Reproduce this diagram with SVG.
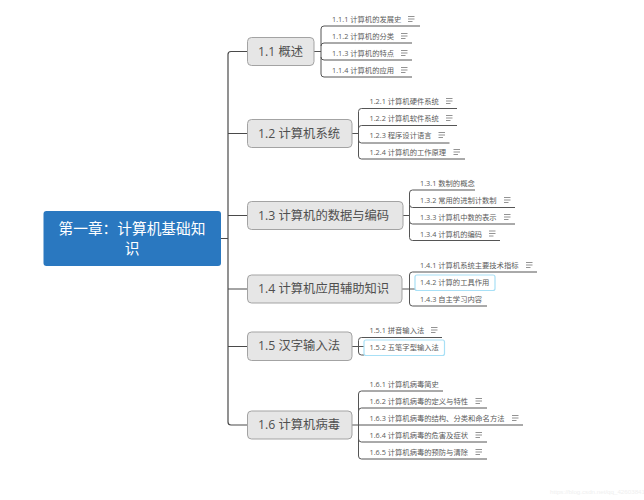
<svg xmlns="http://www.w3.org/2000/svg" xmlns:xlink="http://www.w3.org/1999/xlink" width="644" height="500" viewBox="0 0 644 500">
<style>
text{font-family:"Open Sans","Noto Sans CJK SC","Noto Sans",sans-serif}
.bg{fill:#fff}
.root{fill:#2a78c0}
.rt{fill:#fff;font-size:14.7px;text-anchor:middle}
.l1{fill:#e6e6e6;stroke:#a3a3a3;stroke-width:1}
.lt{fill:#4f4f4f;font-size:12.3px;dominant-baseline:central}
.t{fill:#5a5a5a;font-size:7.3px;dominant-baseline:central}
.c{fill:none;stroke:#555;stroke-width:1}
.m{fill:none;stroke:#4a4a4a;stroke-width:1.2}
.sel{fill:#fff;stroke:#a8e0f6;stroke-width:1.2}
.ic{fill:none;stroke:#777;stroke-width:.8}
.wm{fill:#efefef;font-size:6.2px;font-family:"Liberation Sans",sans-serif}
</style>
<defs>
<g id="note"><path class="ic" d="M0 0H6.500M0 2.500H6.500M0 5H4.500"/></g>
</defs>
<rect class="bg" width="644" height="500"/>
<g id="connectors">
<path class="m" d="M221 238.500H228M247.500 51.500H231Q228 51.500 228 54.500V422Q228 425 231 425H247.500M228 133.500H247.500M228 215.500H247.500M228 289H247.500M228 346.500H247.500"/>
<path class="c" d="M314 51.500H321M420 26H324Q321 26 321 29V74Q321 77 324 77H412M321 46Q321 43 324 43H412M321 57Q321 60 324 60H412"/>
<path class="c" d="M352 133.500H358.500M457 108.500H361.500Q358.500 108.500 358.500 111.500V156Q358.500 159 361.500 159H465M358.500 128.500Q358.500 125.500 361.500 125.500H457M358.500 140Q358.500 143 361.500 143H449.500"/>
<path class="c" d="M403 215.500H409.500M515 207.500H412.500Q409.500 207.500 409.500 204.500V193Q409.500 190 412.500 190H475M409.500 204.500V237.500Q409.500 240.500 412.500 240.500H500M409.500 221Q409.500 224 412.500 224H515"/>
<path class="c" d="M402 289H415M537 272H412.500Q409.500 272 409.500 275V303Q409.500 306 412.500 306H487"/>
<path class="c" d="M352 346.500H364M442 337.500H361.500Q358.500 337.500 358.500 340.500V352Q358.500 355 361.500 355H364"/>
<path class="c" d="M352 425H523M443 391H361.500Q358.500 391 358.500 394V456Q358.500 459 361.500 459H487M358.500 411Q358.500 408 361.500 408H487M358.500 439Q358.500 442 361.500 442H487"/>
</g>
<g id="root"><rect class="root" x="43.500" y="211" width="177.500" height="55" rx="3"/><text class="rt" x="132" y="234">第一章：计算机基础知</text><text class="rt" x="132" y="254">识</text></g>
<g id="n1-1"><rect class="l1" x="247.500" y="37.500" width="66.500" height="28" rx="4"/><text class="lt" x="258" y="51">1.1 概述</text></g>
<g id="n1-2"><rect class="l1" x="247.500" y="119.500" width="104.500" height="28" rx="4"/><text class="lt" x="258" y="133">1.2 计算机系统</text></g>
<g id="n1-3"><rect class="l1" x="247.500" y="201.500" width="155.500" height="28" rx="4"/><text class="lt" x="258" y="215">1.3 计算机的数据与编码</text></g>
<g id="n1-4"><rect class="l1" x="247.500" y="275" width="154.500" height="28" rx="4"/><text class="lt" x="258" y="288.500">1.4 计算机应用辅助知识</text></g>
<g id="n1-5"><rect class="l1" x="247.500" y="332" width="104.500" height="28.500" rx="4"/><text class="lt" x="258" y="345.500">1.5 汉字输入法</text></g>
<g id="n1-6"><rect class="l1" x="247.500" y="411" width="104.500" height="28" rx="4"/><text class="lt" x="258" y="424.500">1.6 计算机病毒</text></g>
<g id="n1-1-1"><text class="t" x="332" y="19">1.1.1 计算机的发展史</text><use href="#note" x="408" y="16.500"/></g>
<g id="n1-1-2"><text class="t" x="332" y="36">1.1.2 计算机的分类</text><use href="#note" x="401" y="33.500"/></g>
<g id="n1-1-3"><text class="t" x="332" y="53">1.1.3 计算机的特点</text><use href="#note" x="401" y="50.500"/></g>
<g id="n1-1-4"><text class="t" x="332" y="70">1.1.4 计算机的应用</text><use href="#note" x="401" y="67.500"/></g>
<g id="n1-2-1"><text class="t" x="369.500" y="101">1.2.1 计算机硬件系统</text><use href="#note" x="446" y="98.500"/></g>
<g id="n1-2-2"><text class="t" x="369.500" y="118">1.2.2 计算机软件系统</text><use href="#note" x="446" y="115.500"/></g>
<g id="n1-2-3"><text class="t" x="369.500" y="135">1.2.3 程序设计语言</text><use href="#note" x="438.500" y="132.500"/></g>
<g id="n1-2-4"><text class="t" x="369.500" y="152">1.2.4 计算机的工作原理</text><use href="#note" x="453.500" y="149.500"/></g>
<g id="n1-3-1"><text class="t" x="420" y="183">1.3.1 数制的概念</text></g>
<g id="n1-3-2"><text class="t" x="420" y="200">1.3.2 常用的进制计数制</text><use href="#note" x="504" y="197.500"/></g>
<g id="n1-3-3"><text class="t" x="420" y="217">1.3.3 计算机中数的表示</text><use href="#note" x="504" y="214.500"/></g>
<g id="n1-3-4"><text class="t" x="420" y="233.500">1.3.4 计算机的编码</text><use href="#note" x="489" y="231"/></g>
<g id="n1-4-1"><text class="t" x="420" y="265">1.4.1 计算机系统主要技术指标</text><use href="#note" x="526" y="262.500"/></g>
<g id="n1-4-2"><rect class="sel" x="415" y="275" width="80" height="15.500" rx="2"/><text class="t" x="420" y="282">1.4.2 计算的工具作用</text></g>
<g id="n1-4-3"><text class="t" x="420" y="299">1.4.3 自主学习内容</text></g>
<g id="n1-5-1"><text class="t" x="369.500" y="330">1.5.1 拼音输入法</text><use href="#note" x="431" y="327.500"/></g>
<g id="n1-5-2"><rect class="sel" x="364" y="340" width="80.500" height="15.500" rx="2"/><text class="t" x="369.500" y="347">1.5.2 五笔字型输入法</text></g>
<g id="n1-6-1"><text class="t" x="369.500" y="384">1.6.1 计算机病毒简史</text></g>
<g id="n1-6-2"><text class="t" x="369.500" y="401">1.6.2 计算机病毒的定义与特性</text><use href="#note" x="475.500" y="398.500"/></g>
<g id="n1-6-3"><text class="t" x="369.500" y="418">1.6.3 计算机病毒的结构、分类和命名方法</text><use href="#note" x="512" y="415.500"/></g>
<g id="n1-6-4"><text class="t" x="369.500" y="435">1.6.4 计算机病毒的危害及症状</text><use href="#note" x="475.500" y="432.500"/></g>
<g id="n1-6-5"><text class="t" x="369.500" y="452">1.6.5 计算机病毒的预防与清除</text><use href="#note" x="475.500" y="449.500"/></g>
<text class="wm" x="550" y="494">https://blog.csdn.net/qq_42603841</text>
</svg>
